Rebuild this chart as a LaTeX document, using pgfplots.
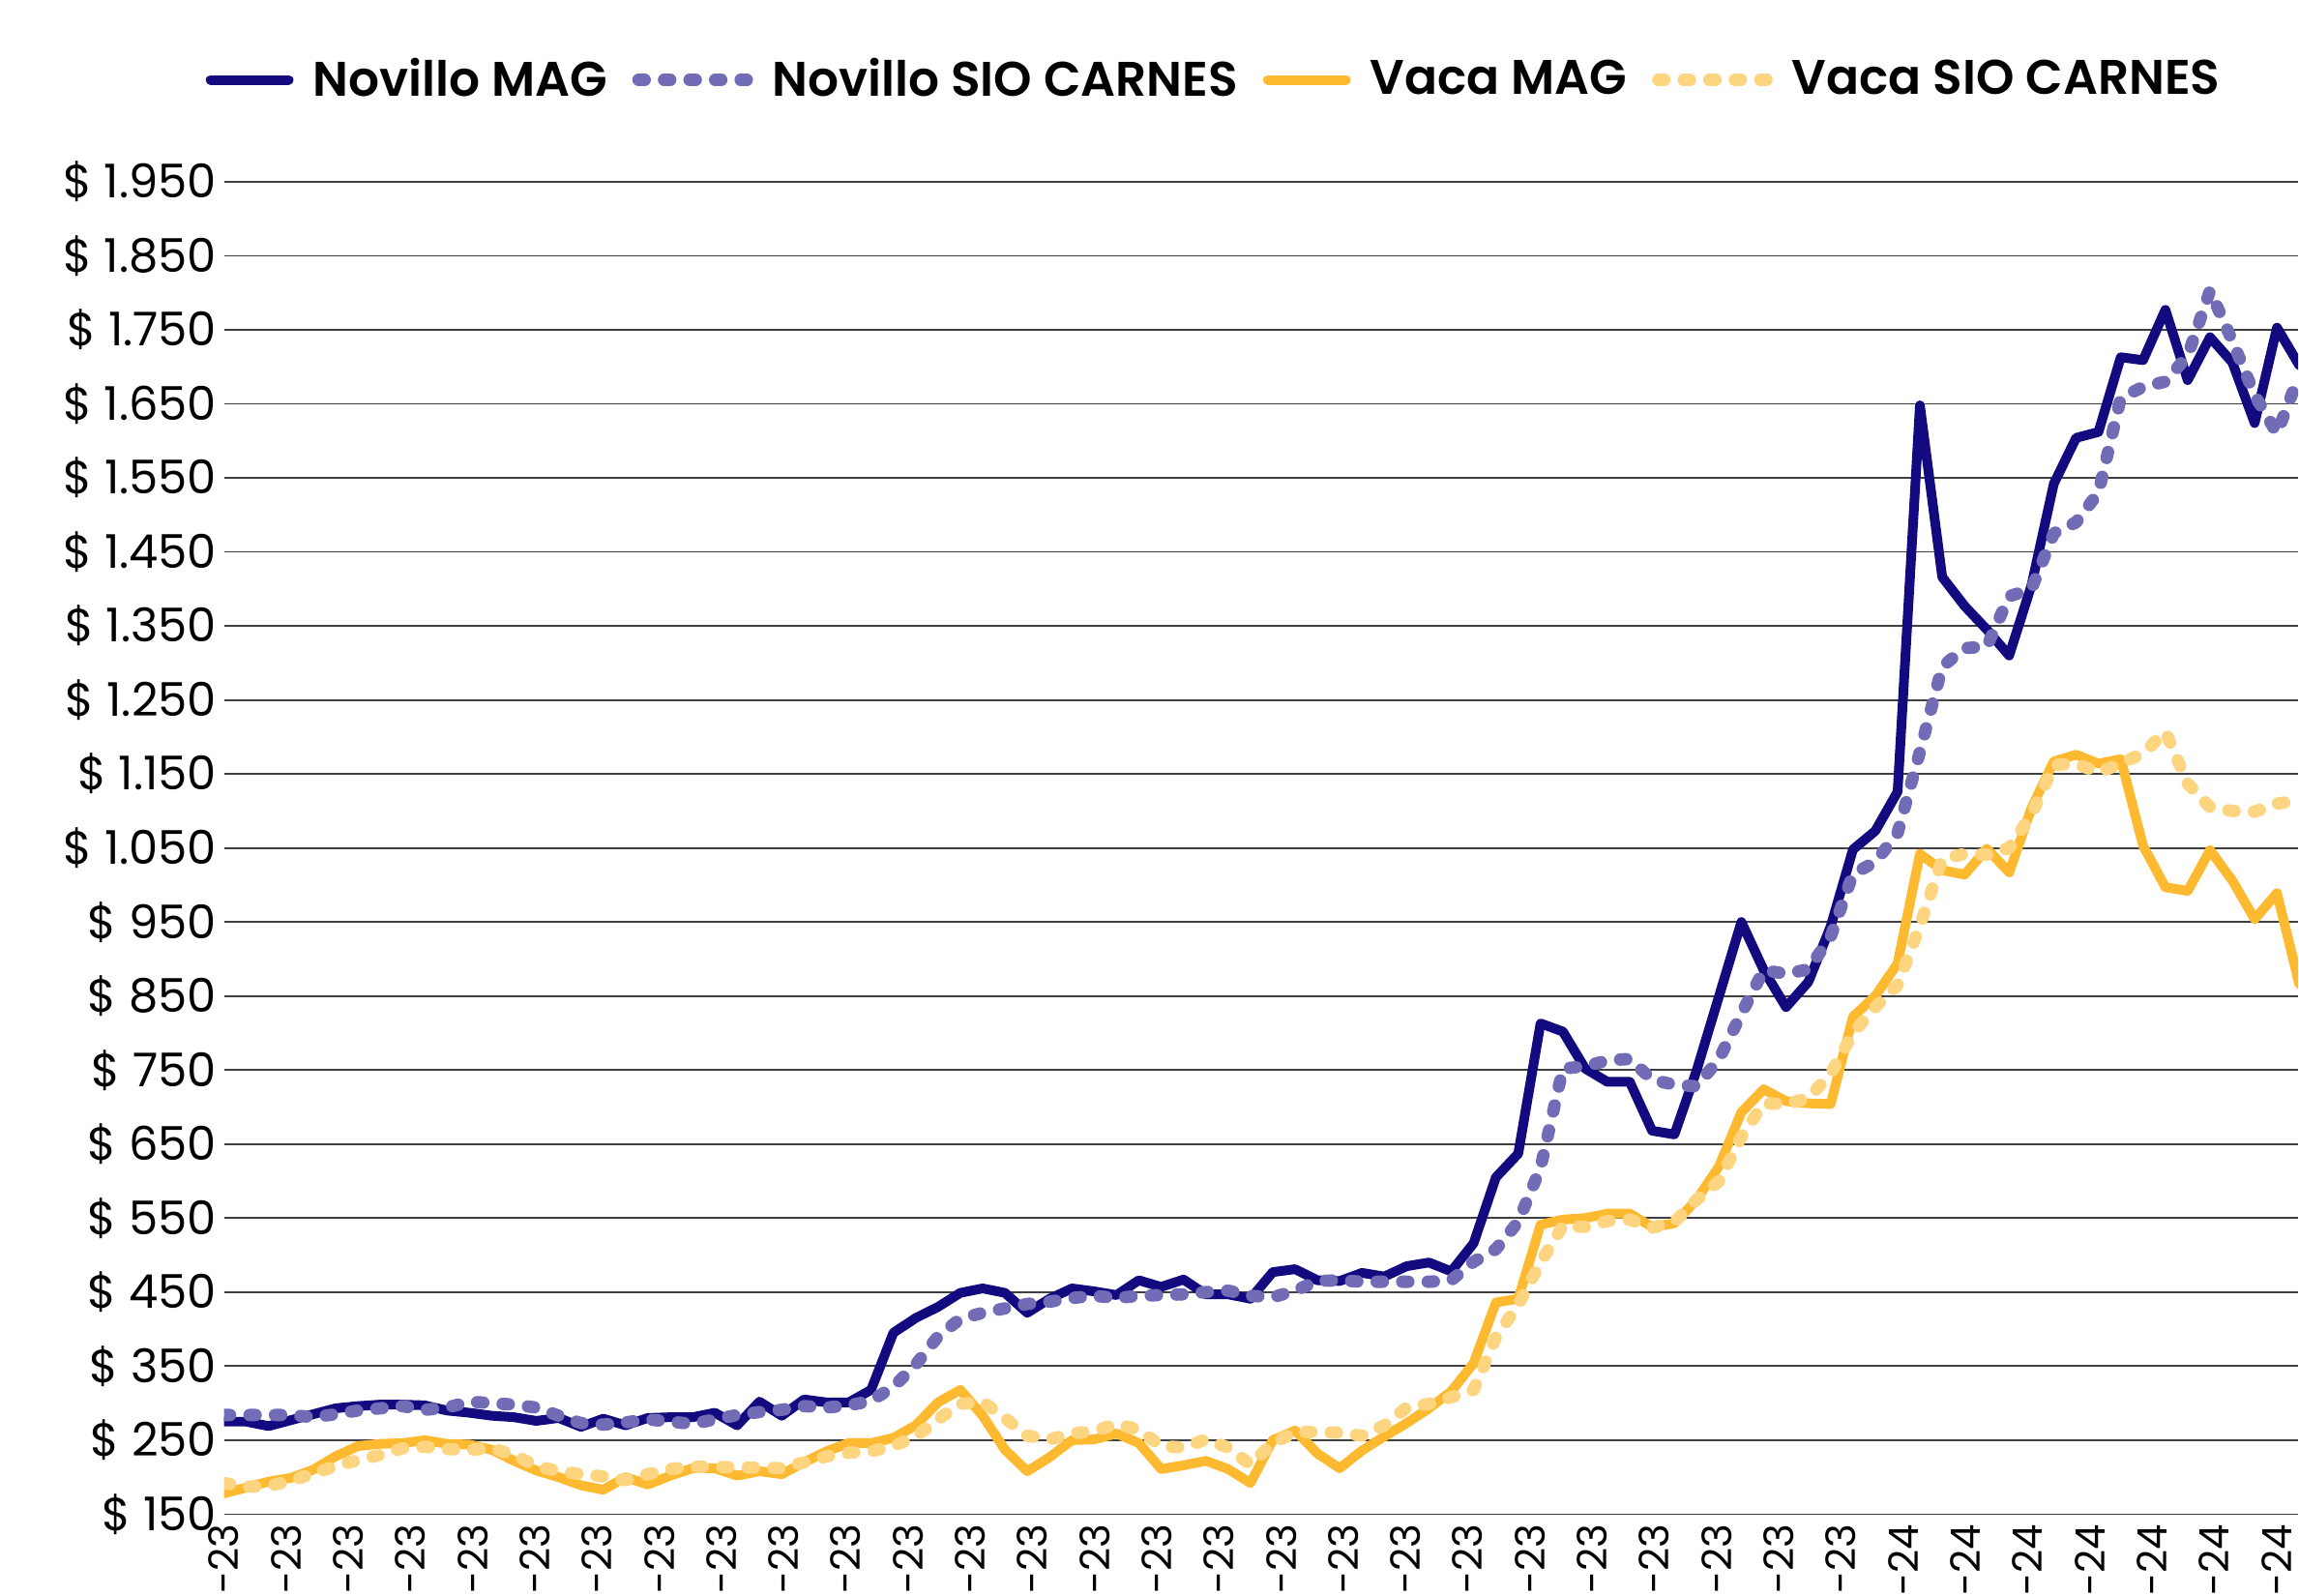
\documentclass[border=0pt]{standalone}
\usepackage{fontspec}
\setmainfont{Poppins}
\newfontfamily\legfont{Poppins}[UprightFont={* SemiBold}]
\usepackage{pgfplots}
\usepackage{pgfplotstable}
\pgfplotsset{compat=1.18}
\definecolor{novmag}{HTML}{120A7E}
\definecolor{novsio}{HTML}{726BB5}
\definecolor{vacmag}{HTML}{FDBA30}
\definecolor{vacsio}{HTML}{FDD480}
\pgfplotsset{
  solidleg/.style={legend image code/.code={\draw[##1] (1.25pt,0pt) -- (21.45pt,0pt);}},
  dotleg/.style={legend image code/.code={\draw[##1] (1.6pt,0pt) -- (29.6pt,0pt);}},
}

\pgfplotstableread{
n A B C D
0 275 284 178 192
1 275 284 186 187
2 269 284 194 188
3 277 284 199 195
4 285 281 210 205
5 293 285 228 215
6 296 290 242 223
7 298 293 245 230
8 298 296 246 239
9 297 291 250 241
10 290 294 245 238
11 287 302 244 237
12 283 300 237 239
13 281 298 222 230
14 276 294 209 215
15 280 283 200 208
16 268 273 189 204
17 279 271 183 201
18 270 274 200 196
19 280 278 190 204
20 281 275 202 211
21 281 272 212 214
22 287 278 212 214
23 270 284 202 213
24 302 288 208 213
25 283 291 204 212
26 305 296 220 220
27 301 294 235 228
28 301 297 246 233
29 318 303 246 235
30 395 322 253 242
31 415 352 270 255
32 430 390 301 278
33 449 414 318 299
34 455 422 283 302
35 449 428 237 280
36 422 434 208 256
37 441 437 227 251
38 455 442 250 259
39 451 445 251 262
40 446 442 259 272
41 466 445 246 264
42 457 446 211 242
43 467 447 216 240
44 447 450 222 251
45 447 452 211 240
46 441 445 192 217
47 477 443 250 246
48 481 452 263 261
49 466 465 232 261
50 465 466 212 260
51 476 464 236 256
52 471 464 255 270
53 485 464 273 294
54 490 464 293 299
55 478 466 316 308
56 516 491 354 318
57 605 508 436 389
58 637 545 441 433
59 813 618 541 490
60 802 752 548 540
61 752 755 550 538
62 734 763 556 546
63 734 765 556 548
64 668 737 538 537
65 663 730 543 545
66 750 728 575 575
67 850 765 620 600
68 950 826 693 660
69 885 885 724 705
70 835 880 708 704
71 869 886 705 712
72 944 930 704 745
73 1048 1015 822 800
74 1073 1031 850 835
75 1126 1070 894 865
76 1648 1180 1042 945
77 1416 1295 1020 1035
78 1377 1320 1014 1042
79 1345 1322 1049 1041
80 1310 1390 1017 1050
81 1405 1400 1104 1095
82 1542 1475 1167 1162
83 1604 1490 1176 1164
84 1612 1530 1164 1152
85 1713 1658 1170 1164
86 1709 1673 1053 1178
87 1777 1680 997 1207
88 1682 1715 992 1137
89 1740 1803 1047 1105
90 1706 1735 1006 1100
91 1624 1662 954 1099
92 1753 1610 989 1110
93 1702 1689 866 1114
}\datatable

\begin{document}
\begin{tikzpicture}
\path (-57.9pt,-20.5pt) rectangle (536.35pt,391.5pt);
\begin{axis}[
  at={(0pt,0pt)}, anchor=south west,
  scale only axis, width=536.35pt, height=344.5pt,
  xmin=0, xmax=92.95, ymin=150, ymax=1950,
  axis line style={draw=none},
  tick style={draw=none},
  major tick length=0pt,
  ytick={150,250,...,1950},
  yticklabels={\$ 150,\$ 250,\$ 350,\$ 450,\$ 550,\$ 650,\$ 750,\$ 850,\$ 950,\$ 1.050,\$ 1.150,\$ 1.250,\$ 1.350,\$ 1.450,\$ 1.550,\$ 1.650,\$ 1.750,\$ 1.850,\$ 1.950},
  yticklabel style={font=\fontsize{12}{13}\selectfont, anchor=east, inner sep=0pt, outer xsep=1.9pt},
  ymajorgrids,
  grid style={black!75, line width=0.45pt},
  xtick={0,2.787,5.574,8.361,11.148,13.935,16.722,19.509,22.296,25.083,27.87,30.657,33.444,36.231,39.018,41.805,44.592,47.379,50.166,52.953,55.74,58.527,61.314,64.101,66.888,69.675,72.462,75.249,78.036,80.823,83.61,86.397,89.184,91.971},
  xticklabels={-23,-23,-23,-23,-23,-23,-23,-23,-23,-23,-23,-23,-23,-23,-23,-23,-23,-23,-23,-23,-23,-23,-23,-23,-23,-23,-23,-24,-24,-24,-24,-24,-24,-24},
  xticklabel style={font=\fontsize{10.5}{12}\selectfont, rotate=90, anchor=east, inner sep=0pt, outer xsep=2.6pt},
  legend columns=4,
  legend style={at={(axis description cs:-0.00914,1.0765)}, anchor=west,
    draw=none, fill=none, inner sep=0pt,
    font=\fontsize{12.55}{14}\legfont,
    nodes={inner sep=0pt},
    /tikz/every odd column/.append style={column sep=5pt},
    /tikz/every even column/.append style={column sep=6.5pt}},
]
\addplot[novmag, line width=2.5pt, line join=round, line cap=round, solidleg]
  table[x=n, y=A] {\datatable};
\addlegendentry{Novillo MAG}
\addplot[novsio, line width=3.2pt, line join=round, line cap=round, dash pattern=on 1.6pt off 5.0pt, dotleg]
  table[x=n, y=B] {\datatable};
\addlegendentry{Novillo SIO CARNES}
\addplot[vacmag, line width=2.5pt, line join=round, line cap=round, solidleg]
  table[x=n, y=C] {\datatable};
\addlegendentry{Vaca MAG}
\addplot[vacsio, line width=3.2pt, line join=round, line cap=round, dash pattern=on 1.6pt off 5.0pt, dotleg]
  table[x=n, y=D] {\datatable};
\addlegendentry{Vaca SIO CARNES}
\end{axis}
\end{tikzpicture}
\end{document}
